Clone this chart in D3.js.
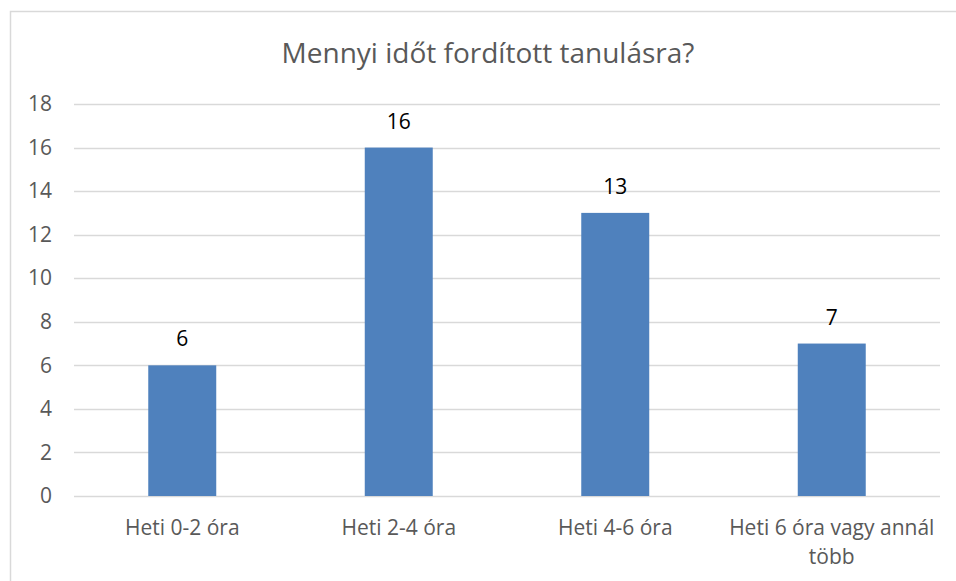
<!DOCTYPE html>
<html>
<head>
<meta charset="utf-8">
<script src="https://cdn.jsdelivr.net/npm/d3@7"></script>
<style>
	body { margin: 0; background: #fff; }
	text { font-family: "Open Sans", "Noto Sans", sans-serif; }
</style>
</head>
<body>
<div class="chart"></div>
<script>
var categories = ["Heti 0-2 óra", "Heti 2-4 óra", "Heti 4-6 óra", "Heti 6 óra vagy annál több"],
values = [6, 16, 13, 7],
yTicks = [0, 2, 4, 6, 8, 10, 12, 14, 16, 18],
title = "Mennyi időt fordított tanulásra?";

var width = 956,
height = 581,
plotLeft = 74,
plotRight = 940,
plotTop = 104,
plotBottom = 496;

var svg = d3.select("div.chart")
	.append("svg")
	.attr("width", width)
	.attr("height", height);

// chart frame, cut off by the picture at right and bottom
svg.append("rect")
	.attr("x", 10.5)
	.attr("y", 11.5)
	.attr("width", 980)
	.attr("height", 620)
	.attr("fill", "none")
	.attr("stroke", "#d9d9d9")
	.attr("stroke-width", 1.5);

svg.append("text")
	.attr("x", 488)
	.attr("y", 63)
	.attr("text-anchor", "middle")
	.attr("font-size", 28)
	.attr("fill", "#595959")
	.text(title);

var x = d3.scaleBand()
	.domain(categories)
	.range([plotLeft, plotRight])
	.paddingInner(0.686)
	.paddingOuter(0.343);

var y = d3.scaleLinear()
	.domain([0, 18])
	.range([plotBottom, plotTop]);

var gridLayer = svg.append("g");
var barLayer = svg.append("g");

gridLayer.selectAll(".grid")
	.data(yTicks)
	.enter().append("line")
	.attr("x1", plotLeft)
	.attr("x2", plotRight)
	.attr("y1", function(d) { return Math.round(y(d)) + 0.5; })
	.attr("y2", function(d) { return Math.round(y(d)) + 0.5; })
	.attr("stroke", "#d9d9d9")
	.attr("stroke-width", 1.3);

var yAxis = d3.axisLeft(y)
	.tickValues(yTicks)
	.tickSize(0)
	.tickPadding(0);

var yg = svg.append("g")
	.attr("transform", "translate(52,0)")
	.call(yAxis);
yg.select(".domain").remove();
yg.selectAll("text")
	.attr("font-size", 21)
	.attr("fill", "#595959")
	.attr("font-family", "'Open Sans', sans-serif");

barLayer.selectAll(".bar")
	.data(values)
	.enter().append("rect")
	.attr("x", function(d, i) { return x(categories[i]); })
	.attr("y", function(d) { return y(d); })
	.attr("width", x.bandwidth())
	.attr("height", function(d) { return y(0) - y(d); })
	.attr("fill", "#4f81bd");

barLayer.selectAll(".lbl")
	.data(values)
	.enter().append("text")
	.attr("x", function(d, i) { return x(categories[i]) + x.bandwidth() / 2; })
	.attr("y", function(d) { return y(d) - 19; })
	.attr("text-anchor", "middle")
	.attr("font-size", 21)
	.attr("fill", "#000")
	.text(function(d) { return d; });

var xAxis = d3.axisBottom(x)
	.tickSize(0)
	.tickPadding(0);

var xg = svg.append("g")
	.call(xAxis);
xg.select(".domain").remove();
xg.selectAll("text")
	.attr("font-size", 21)
	.attr("fill", "#595959")
	.attr("font-family", "'Open Sans', sans-serif")
	.attr("dy", null)
	.attr("y", 535)
	.each(function(d) { wrap(d3.select(this), x.step() - 8); });

function wrap(text, maxW) {
	var words = text.text().split(" "),
	line = [],
	lineNo = 0,
	tspan = text.text(null).append("tspan").attr("x", 0).attr("y", 535);
	words.forEach(function(w) {
		line.push(w);
		tspan.text(line.join(" "));
		if (tspan.node().getComputedTextLength() > maxW && line.length > 1) {
			line.pop();
			tspan.text(line.join(" "));
			line = [w];
			lineNo++;
			tspan = text.append("tspan").attr("x", 0).attr("y", 535 + lineNo * 29).text(w);
		}
	});
}
</script>
</body>
</html>
